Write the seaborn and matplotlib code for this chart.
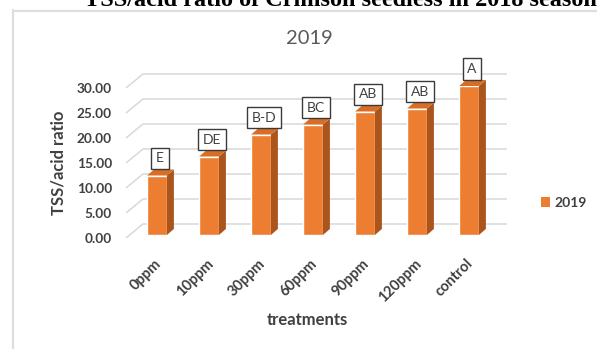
import matplotlib
matplotlib.use("Agg")
import matplotlib.pyplot as plt
import matplotlib.transforms as mtransforms
from matplotlib.patches import Polygon, Patch
from matplotlib.lines import Line2D
import seaborn as sns
import pandas as pd

# TSS/acid ratio per treatment, 2019 season
treatments = ["0ppm", "10ppm", "30ppm", "60ppm", "90ppm", "120ppm", "control"]
tss_acid = [11.9, 15.7, 20.1, 22.1, 24.7, 25.3, 29.8]
letters = ["E", "DE", "B-D", "BC", "AB", "AB", "A"]
y_ticks = [0, 5, 10, 15, 20, 25, 30]

df = pd.DataFrame({"treatment": treatments, "ratio": tss_acid})

sns.set_style("white")
plt.rcParams["font.family"] = ["Lato", "DejaVu Sans"]

FRONT = "#ED7D31"
SIDE = "#AB551C"
TOP = "#D86D26"
GRID = "#D9D9D9"
TXT = "#404040"

W, H = 597, 349
fig = plt.figure(figsize=(W / 100, H / 100), dpi=100)

# axes rectangle in pixels (left, right, bottom, top from the top edge)
L, R, B, T = 120.6, 515.8, 240.0, 70.0
ax = fig.add_axes([L / W, (H - B) / H, (R - L) / W, (B - T) / H])

sns.barplot(data=df, x="treatment", y="ratio", color=FRONT, saturation=1,
            width=0.38, ax=ax, zorder=3)
ax.set_xlim(-0.7, 6.9)
ax.set_ylim(-1, 33)

# pseudo-3D depth of the bars (data units)
dx, dy = 0.135, 1.2
for p in ax.patches:
    x0, w, h = p.get_x(), p.get_width(), p.get_height()
    side = Polygon([(x0 + w, 0), (x0 + w + dx, dy), (x0 + w + dx, h + dy), (x0 + w, h)],
                   closed=True, facecolor=SIDE, edgecolor="none", zorder=3)
    top = Polygon([(x0, h), (x0 + dx, h + dy), (x0 + w + dx, h + dy), (x0 + w, h)],
                  closed=True, facecolor=TOP, edgecolor="none", zorder=3)
    ax.add_patch(side)
    ax.add_patch(top)

# back-wall gridlines with a slanted floor segment
wall_dy = 2.2
front_dy = -0.6
for v in y_ticks:
    ax.plot([-0.596, -0.27, 6.73], [v + front_dy, v + wall_dy, v + wall_dy],
            color=GRID, lw=1.1, zorder=1, clip_on=False, solid_capstyle="butt")

# significance letters above the bars
for p, lab in zip(ax.patches, letters):
    xc = p.get_x() + p.get_width() / 2
    h = p.get_height()
    ax.annotate(lab, xy=(xc, h), xytext=(3, 11), textcoords="offset pixels",
                ha="center", va="bottom", fontsize=10, color=TXT, zorder=5,
                bbox=dict(boxstyle="square,pad=0.33", facecolor="white",
                          edgecolor="#3a3a3a", linewidth=1.0))

# axes styling
for s in ax.spines.values():
    s.set_visible(False)
ax.tick_params(axis="both", length=0)
ax.set_yticks(y_ticks)
ax.set_yticklabels([f"{v:.2f}" for v in y_ticks], fontsize=9.8,
                   fontweight="bold", color=TXT)
ax.tick_params(axis="y", pad=6.2)
shift = mtransforms.ScaledTranslation(0, -0.03, fig.dpi_scale_trans)
for lbl in ax.get_yticklabels():
    lbl.set_transform(lbl.get_transform() + shift)

ax.set_xticks(range(len(treatments)))
ax.set_xticklabels(treatments, rotation=45, ha="right", va="top",
                   rotation_mode="anchor", fontsize=10.5, fontweight="bold",
                   color=TXT)
ax.tick_params(axis="x", pad=12)
xshift = mtransforms.ScaledTranslation(-0.03, 0, fig.dpi_scale_trans)
for lbl in ax.get_xticklabels():
    lbl.set_transform(lbl.get_transform() + xshift)

ax.set_ylabel("TSS/acid ratio", fontsize=12, fontweight="bold", color=TXT)
ax.yaxis.set_label_coords((66 - L) / (R - L), (B - 163) / (B - T))
ax.set_xlabel("treatments", fontsize=12, fontweight="bold", color=TXT)
ax.xaxis.set_label_coords((307 - L) / (R - L), (B - 312) / (B - T))

# chart title and legend
fig.text(309 / W, 1 - 39 / H, "2019", ha="center", va="center",
         fontsize=14.5, color="#595959")
fig.legend(handles=[Patch(facecolor=FRONT, edgecolor="none", label="2019")],
           loc="center left", bbox_to_anchor=(535 / W, 1 - 203 / H),
           frameon=False, handlelength=0.7, handleheight=0.7, handletextpad=0.3,
           borderpad=0.2, borderaxespad=0.2,
           prop={"size": 10, "weight": "bold"}, labelcolor=TXT)

# chart frame (left and top edges)
fig.add_artist(Line2D([12.5 / W, 12.5 / W], [0, 1 - 10 / H],
                      transform=fig.transFigure, color="#DDDDDD", lw=1.6))
fig.add_artist(Line2D([12.5 / W, 1], [1 - 10.5 / H, 1 - 10.5 / H],
                      transform=fig.transFigure, color="#DDDDDD", lw=1.6))

# page heading above the chart
fig.text(84 / W, 1 - 6 / H, "TSS/acid ratio of Crimson seedless in 2018 season",
         ha="left", va="baseline", fontsize=17.5, fontweight="bold",
         family="Liberation Serif", color="black")

fig.savefig("out.png", dpi=100)
